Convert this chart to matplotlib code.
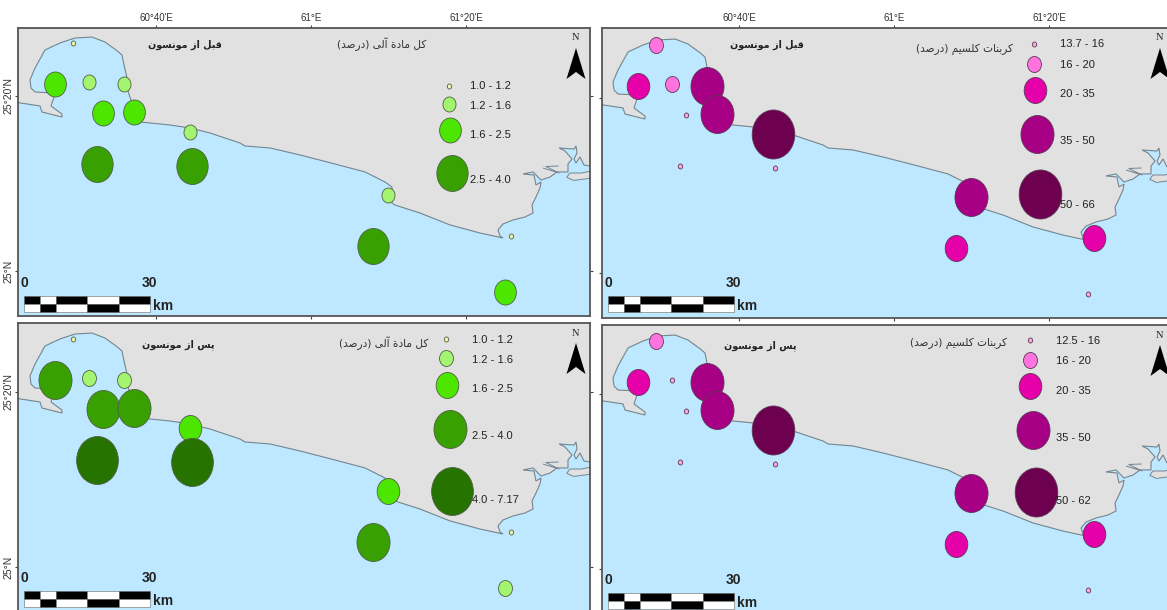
import matplotlib
matplotlib.use('Agg')
import matplotlib.pyplot as plt
from matplotlib.path import Path
from matplotlib.patches import Polygon, Rectangle
from matplotlib.transforms import Affine2D

W, H = 1167, 610

# station positions, minutes east of 60E and minutes north of 25N
station_lon = [29.3, 26.97, 31.35, 35.87, 33.16, 37.16, 44.39, 32.39, 44.65, 69.94, 68.0, 85.8, 85.03]
station_lat = [26.06, 21.37, 21.6, 21.37, 18.06, 18.17, 15.89, 12.23, 12.0, 8.69, 2.86, 4.0, -2.4]

# class of each station (index into the legend bins)
om_pre = [0, 2, 1, 1, 2, 2, 1, 3, 3, 1, 3, 0, 2]
om_post = [0, 3, 1, 1, 3, 3, 2, 4, 4, 2, 3, 0, 1]
caco3_pre = [1, 2, 1, 3, 0, 3, 4, 0, 0, 3, 2, 2, 0]
caco3_post = [1, 2, 0, 3, 0, 3, 4, 0, 0, 3, 2, 2, 0]

# legend bins
om_pre_bins = ['1.0 - 1.2', '1.2 - 1.6', '1.6 - 2.5', '2.5 - 4.0']
om_post_bins = ['1.0 - 1.2', '1.2 - 1.6', '1.6 - 2.5', '2.5 - 4.0', '4.0 - 7.17']
caco3_pre_bins = ['13.7 - 16', '16 - 20', '20 - 35', '35 - 50', '50 - 66']
caco3_post_bins = ['12.5 - 16', '16 - 20', '20 - 35', '35 - 50', '50 - 62']

green = ['#eef8b0', '#a3f56f', '#4ce600', '#38a000', '#267300']
purple = ['#ffa6dc', '#ff73df', '#e600a9', '#a80084', '#6e0050']

# coastline, sea lies below/right of it
coast_lon = [20, 25.03, 25.29, 27.87, 27.87, 26.45, 26.84, 26.84, 24.39, 23.87, 23.74, 24.39, 25.68,
             27.61, 29.55, 31.74, 33.42, 34.84, 35.61, 35.87, 36.26, 36.26, 36.77, 37.94, 41.81, 44.39,
             46.97, 50.84, 51.48, 54.71, 58.58, 63.10, 66.97, 69.55, 70.45, 70.45, 70.84, 74.06, 77.94,
             81.81, 84.77, 84.39, 84.13, 84.77, 86.06, 87.61, 88.65, 88.52, 89.03, 89.55, 89.68, 89.03,
             88.77, 87.35, 88.65, 89.42, 89.68, 90.84, 91.74, 93.16, 93.16, 93.68, 92.77, 92.0, 93.94,
             94.19, 94.32, 93.94, 94.19, 94.71, 95.23, 96.0, 110]
coast_lat = [19.54, 18.86, 18.17, 17.6, 17.94, 18.86, 19.89, 20.34, 20.46, 20.91, 21.83, 23.2, 25.26,
             26.06, 26.63, 26.74, 26.17, 25.26, 24.69, 23.54, 22.06, 20.91, 19.54, 17.03, 16.69, 16.34,
             15.77, 14.63, 14.29, 14.06, 13.26, 12.23, 11.32, 10.17, 9.6, 7.77, 7.54, 6.63, 5.26,
             4.34, 3.77, 4.0, 4.69, 5.37, 5.83, 6.17, 6.63, 7.54, 8.46, 9.49, 10.17, 9.83,
             10.97, 11.09, 11.32, 10.63, 10.4, 10.74, 11.32, 11.32, 12.23, 12.8, 13.72, 14.06, 13.94,
             14.29, 13.49, 12.8, 12.34, 13.03, 12.11, 12.0, 12.0]

island_lon = [96, 94.9, 93.4, 93.0, 93.9, 96]
island_lat = [11.4, 11.2, 11.2, 10.7, 10.35, 10.6]
creek_lon = [90.0, 92.0, 90.3, 91.9]
creek_lat = [11.75, 11.2, 11.95, 12.0]

# minimal Arabic shaping, matplotlib draws glyphs as they come
# isolated, final, initial, medial
forms = {
    'ا': (0xFE8D, 0xFE8E), 'آ': (0xFE81, 0xFE82), 'د': (0xFEA9, 0xFEAA), 'ر': (0xFEAD, 0xFEAE),
    'ز': (0xFEAF, 0xFEB0), 'و': (0xFEED, 0xFEEE), 'ة': (0xFE93, 0xFE94),
    'ب': (0xFE8F, 0xFE90, 0xFE91, 0xFE92), 'پ': (0xFB56, 0xFB57, 0xFB58, 0xFB59),
    'ت': (0xFE95, 0xFE96, 0xFE97, 0xFE98), 'س': (0xFEB1, 0xFEB2, 0xFEB3, 0xFEB4),
    'ص': (0xFEB9, 0xFEBA, 0xFEBB, 0xFEBC), 'ق': (0xFED5, 0xFED6, 0xFED7, 0xFED8),
    'ک': (0xFB8E, 0xFB8F, 0xFB90, 0xFB91), 'ل': (0xFEDD, 0xFEDE, 0xFEDF, 0xFEE0),
    'م': (0xFEE1, 0xFEE2, 0xFEE3, 0xFEE4), 'ن': (0xFEE5, 0xFEE6, 0xFEE7, 0xFEE8),
    'ه': (0xFEE9, 0xFEEA, 0xFEEB, 0xFEEC), 'ی': (0xFBFC, 0xFBFD, 0xFBFE, 0xFBFF),
}


def shape(text):
    out = []
    for i, ch in enumerate(text):
        if ch not in forms:
            out.append({'(': ')', ')': '('}.get(ch, ch))
            continue
        f = forms[ch]
        prev = text[i - 1] if i > 0 else ' '
        nxt = text[i + 1] if i + 1 < len(text) else ' '
        joins_prev = prev in forms and len(forms[prev]) == 4
        joins_next = nxt in forms and len(f) == 4
        if joins_prev and joins_next:
            out.append(chr(f[3]))
        elif joins_next:
            out.append(chr(f[2]))
        elif joins_prev:
            out.append(chr(f[1]))
        else:
            out.append(chr(f[0]))
    return ''.join(reversed(out))


plt.rcParams['font.family'] = ['Liberation Sans', 'DejaVu Sans']
fig = plt.figure(figsize=(W / 100, H / 100), dpi=100)
px = Affine2D().scale(1, -1).translate(0, H)

oval = Path.unit_circle().transformed(Affine2D().scale(0.87, 1))
edge = {'g': '#4f5f45', 'p': '#5a3a55'}


def size(h):
    return (h * 0.72) ** 2


panels = [
    dict(box=(18, 28, 590, 316), org=(156, 271), cls=om_pre, bins=om_pre_bins, colors=green, sizes=[5, 15, 25, 36],
         title='قبل از مونسون', title_xy=(185, 45), cap='کل مادة آلی (درصد)', cap_xy=(382, 44),
         leg_x=[449, 449, 450, 452], leg_y=[86, 104, 130, 173], lab_x=470, lab_y=[86, 106, 135, 180], ec='g'),
    dict(box=(602, 28, 1173, 318), org=(739, 273), cls=caco3_pre, bins=caco3_pre_bins, colors=purple, sizes=[5, 16, 26, 38, 49],
         title='قبل از مونسون', title_xy=(767, 45), cap='کربنات کلسیم (درصد)', cap_xy=(964, 49),
         leg_x=[1034, 1034, 1035, 1037, 1040], leg_y=[44, 64, 90, 134, 194], lab_x=1060, lab_y=[44, 65, 94, 141, 205], ec='p'),
    dict(box=(18, 323, 590, 615), org=(156, 567), cls=om_post, bins=om_post_bins, colors=green, sizes=[5, 16, 26, 38, 48],
         title='پس از مونسون', title_xy=(178, 345), cap='کل مادة آلی (درصد)', cap_xy=(384, 343),
         leg_x=[446, 446, 447, 450, 452], leg_y=[339, 358, 385, 429, 491], lab_x=472, lab_y=[340, 360, 389, 436, 500], ec='g'),
    dict(box=(602, 325, 1173, 615), org=(739, 569), cls=caco3_post, bins=caco3_post_bins, colors=purple, sizes=[5, 16, 26, 38, 49],
         title='پس از مونسون', title_xy=(760, 346), cap='کربنات کلسیم (درصد)', cap_xy=(959, 343),
         leg_x=[1030, 1030, 1030, 1033, 1036], leg_y=[340, 360, 386, 430, 492], lab_x=1056, lab_y=[341, 361, 391, 438, 501], ec='p'),
]

# scale bar divisions in km
bar_km = [0, 3.75, 7.5, 15, 22.5, 30]

for n, p in enumerate(panels):
    x0, y0, x1, y1 = p['box']
    ox, oy = p['org']
    ax = fig.add_axes([x0 / W, 1 - y1 / H, (x1 - x0) / W, (y1 - y0) / H], facecolor='#e1e1e1')
    xlim = (40 + (x0 - ox) / 7.75, 40 + (x1 - ox) / 7.75)
    ylim = ((oy - y1) * 20 / 175, (oy - y0) * 20 / 175)

    sea = Polygon(list(zip(coast_lon, coast_lat)) + [(110, -20), (20, -20)], closed=True,
                  facecolor='#bee8ff', edgecolor='#74858f', linewidth=0.8, zorder=1)
    ax.add_patch(sea)
    ax.fill(island_lon, island_lat, facecolor='#e1e1e1', edgecolor='#74858f', linewidth=0.7, zorder=1.1)
    ax.plot(creek_lon, creek_lat, color='#74858f', linewidth=0.7, zorder=1.1)

    for c in range(len(p['sizes'])):
        idx = [i for i, v in enumerate(p['cls']) if v == c]
        ax.scatter([station_lon[i] for i in idx], [station_lat[i] for i in idx], s=size(p['sizes'][c]),
                   marker=oval, color=p['colors'][c], edgecolors=edge[p['ec']], linewidths=0.6, zorder=3)

    # legend
    for c, lab in enumerate(p['bins']):
        ax.scatter([p['leg_x'][c]], [p['leg_y'][c]], s=size(p['sizes'][c]), marker=oval, color=p['colors'][c],
                   edgecolors=edge[p['ec']], linewidths=0.6, transform=px, zorder=3)
        ax.text(p['lab_x'], p['lab_y'][c], lab, transform=px, fontsize=8, color='#222222', va='center', zorder=4)

    ax.text(*p['title_xy'], shape(p['title']), transform=px, family='DejaVu Sans', fontweight='bold',
            fontsize=6.9, color='#222222', ha='center', va='center')
    ax.text(*p['cap_xy'], shape(p['cap']), transform=px, family='DejaVu Sans', fontsize=7.6,
            color='#333333', ha='center', va='center')

    # north arrow
    nx = x0 + 558
    ty = y0 + 20
    ax.text(nx, ty - 10, 'N', transform=px, family='Liberation Serif', fontsize=7.5, color='#222222',
            ha='center', va='center')
    ax.add_patch(Polygon([(nx, ty), (nx - 9.5, ty + 31), (nx, ty + 24), (nx + 9.5, ty + 31)], closed=True,
                         facecolor='black', edgecolor='none', transform=px, zorder=4))

    # scale bar
    bx = x0 + 6
    by = y0 + 268
    k = 126 / bar_km[-1]
    for j in range(len(bar_km) - 1):
        left = bx + bar_km[j] * k
        wid = (bar_km[j + 1] - bar_km[j]) * k
        top_col, low_col = ('black', 'white') if j % 2 == 0 else ('white', 'black')
        ax.add_patch(Rectangle((left, by), wid, 8, facecolor=top_col, edgecolor='#666666', linewidth=0.4,
                               transform=px, zorder=4))
        ax.add_patch(Rectangle((left, by + 8), wid, 8, facecolor=low_col, edgecolor='#666666', linewidth=0.4,
                               transform=px, zorder=4))
    ax.text(bx, by - 13, '0', transform=px, fontsize=10, fontweight='bold', color='#222222', ha='center', va='center')
    ax.text(bx + 125, by - 13, '30', transform=px, fontsize=10, fontweight='bold', color='#222222', ha='center', va='center')
    ax.text(bx + 129, by + 10, 'km', transform=px, fontsize=10, fontweight='bold', color='#222222', ha='left', va='center')

    ax.set_xlim(xlim)
    ax.set_ylim(ylim)
    ax.set_xticks([40, 60, 80])
    ax.set_yticks([0, 20])
    ax.set_xticklabels(["60°40'E", "61°E", "61°20'E"], fontsize=7, color='#333333')
    ax.set_yticklabels(['25°N', "25°20'N"], fontsize=7.5, color='#333333', rotation=90, va='center')
    ax.tick_params(top=n < 2, bottom=n < 2, left=True, right=n % 2 == 0, labeltop=n < 2, labelbottom=False,
                   labelleft=n % 2 == 0, length=2.5, width=0.8, color='#444444', pad=1)
    for s in ax.spines.values():
        s.set_color('#555555')
        s.set_linewidth(1.3)

fig.savefig('out.png', dpi=100)
